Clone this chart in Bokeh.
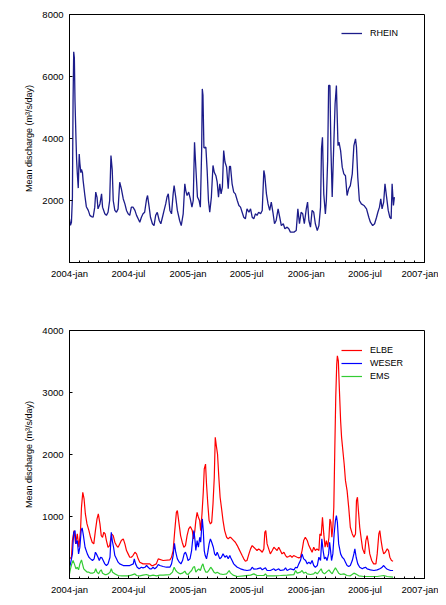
import numpy as np
from bokeh.plotting import figure
from bokeh.models import FixedTicker, Legend, LegendItem
from bokeh.layouts import column
from bokeh.embed import file_html
from bokeh.resources import INLINE

# ---------------- data (day offsets from 2004-01-01, mean discharge m3/s/day) -------------
start_date = "2004-01-01"
end_date = "2007-01-01"
tick_labels = ["2004-jan", "2004-jul", "2005-jan", "2005-jul", "2006-jan", "2006-jul", "2007-jan"]

rhein_day = [0, 3, 6, 9, 11, 13, 15, 17, 20, 22, 24, 27, 30, 32, 35, 37, 40, 42, 47, 52, 58, 63, 68, 73,
             78, 81, 85, 88, 94, 99, 102, 109, 114, 119, 124, 128, 132, 135, 140, 145, 150, 155, 160, 166,
             171, 176, 181, 186, 191, 196, 202, 207, 212, 217, 222, 227, 232, 238, 241, 246, 250, 256, 261,
             266, 271, 277, 282, 287, 292, 297, 301, 305, 310, 315, 320, 323, 328, 333, 340, 345, 351, 356,
             359, 363, 368, 373, 378, 382, 386, 390, 395, 400, 404, 408, 410, 412, 415, 421, 425, 429, 433,
             438, 443, 447, 452, 456, 460, 464, 468, 472, 476, 480, 485, 490, 494, 497, 502, 507, 512, 518,
             523, 528, 533, 538, 543, 548, 554, 559, 564, 569, 574, 579, 584, 590, 595, 600, 603, 608, 613,
             618, 623, 628, 633, 638, 644, 649, 654, 660, 665, 672, 677, 682, 693, 700, 705, 710, 715, 720,
             725, 731, 735, 739, 744, 749, 754, 759, 765, 770, 775, 778, 781, 785, 790, 793, 797, 800, 804,
             807, 811, 816, 820, 824, 826, 829, 832, 837, 842, 847, 852, 857, 862, 867, 873, 878, 883, 886,
             890, 895, 901, 909, 917, 924, 929, 936, 942, 948, 952, 957, 961, 965, 970, 974, 979, 984, 989,
             993, 996, 1000, 1003]
rhein_q = [1400, 1200, 1300, 2100, 5200, 6800, 6600, 5200, 4000, 3300, 2900, 2400, 3500, 3200, 2900, 3000,
           2900, 2650, 2200, 1800, 1680, 1520, 1480, 1460, 1785, 2270, 2100, 1730, 1890, 2215, 1785, 1570,
           1520, 1620, 2000, 3450, 2970, 2000, 1680, 1620, 1730, 2590, 2380, 2050, 1890, 1680, 1570, 1520,
           1785, 1785, 1680, 1520, 1410, 1300, 1460, 1570, 1620, 2050, 2160, 1785, 1460, 1250, 1190, 1520,
           1620, 1355, 1250, 1460, 1680, 1890, 2110, 2215, 1680, 1570, 2215, 2480, 2110, 1680, 1355, 1190,
           1570, 2540, 2320, 2160, 2270, 2050, 1785, 2000, 3880, 3075, 2110, 2000, 1785, 3610, 5600, 5400,
           3700, 3720, 2970, 2000, 1620, 2110, 3130, 2910, 2800, 2590, 2110, 2540, 2215, 2430, 3610, 3240,
           3075, 2380, 3100, 3100, 2540, 2270, 2215, 2000, 1840, 1785, 1620, 1460, 1410, 1730, 1620, 1730,
           1460, 1410, 1570, 1520, 1620, 1570, 1680, 2970, 2800, 2215, 1890, 1680, 1950, 1620, 1250, 1355,
           1730, 1460, 1190, 1250, 1090, 1140, 1090, 980, 980, 1030, 1730, 1250, 1620, 1570, 1250, 1730,
           1950, 1355, 1140, 1680, 1620, 1250, 1030, 1190, 1785, 3670, 4040, 2215, 1570, 2000, 3290, 5710,
           5710, 3720, 2110, 3830, 5120, 5710, 4900, 3770, 3880, 3610, 3075, 2860, 2800, 2160, 2380, 2480,
           2860, 3770, 3990, 3720, 2750, 2000, 1890, 1840, 1730, 1460, 1300, 1190, 1250, 1460, 1620, 1785,
           2050, 1730, 1950, 2540, 2110, 1680, 1460, 1410, 2540, 1840, 2110]

elbe_day = [0, 6, 9, 14, 19, 24, 29, 34, 37, 41, 45, 49, 54, 60, 65, 70, 75, 80, 85, 89, 94, 98, 102, 106,
            110, 114, 119, 124, 130, 135, 140, 145, 150, 155, 160, 166, 171, 176, 181, 186, 191, 196, 202,
            207, 212, 217, 227, 238, 248, 253, 258, 268, 274, 289, 310, 315, 320, 325, 330, 333, 337, 343,
            348, 353, 358, 363, 368, 373, 379, 383, 387, 390, 394, 398, 402, 405, 409, 413, 416, 420, 423,
            427, 431, 435, 439, 443, 447, 450, 454, 457, 461, 465, 469, 474, 479, 485, 490, 495, 497, 502,
            507, 512, 518, 523, 528, 533, 538, 543, 548, 554, 559, 564, 569, 574, 579, 584, 590, 595, 600,
            603, 606, 610, 615, 620, 626, 631, 636, 641, 646, 651, 656, 662, 667, 672, 677, 682, 687, 692,
            698, 703, 708, 713, 718, 723, 728, 734, 739, 744, 749, 754, 759, 764, 770, 773, 777, 781, 785,
            789, 793, 797, 801, 804, 807, 810, 813, 816, 819, 822, 825, 827, 830, 833, 837, 840, 844, 848,
            852, 857, 862, 867, 873, 878, 883, 886, 889, 892, 896, 900, 905, 911, 915, 919, 923, 927, 933,
            939, 946, 950, 955, 958, 962, 966, 970, 975, 981, 985, 989, 994, 999]
elbe_q = [317, 343, 612, 773, 558, 719, 504, 773, 1148, 1390, 1283, 1041, 880, 773, 665, 585, 558, 773, 961,
          1041, 880, 692, 665, 746, 719, 612, 504, 531, 719, 692, 585, 531, 504, 558, 612, 639, 558, 451,
          397, 343, 343, 370, 424, 397, 317, 263, 236, 236, 236, 209, 209, 236, 317, 290, 300, 343, 451, 773,
          1068, 1095, 934, 692, 585, 504, 531, 692, 800, 837, 773, 639, 773, 934, 1068, 987, 934, 773, 1041,
          1390, 1766, 1846, 1524, 1202, 934, 880, 907, 1202, 1632, 2276, 2115, 2007, 1632, 1310, 1148, 934,
          773, 665, 639, 665, 665, 639, 612, 585, 531, 478, 424, 370, 317, 279, 290, 397, 478, 531, 504, 478,
          451, 478, 451, 424, 478, 746, 773, 558, 478, 397, 451, 504, 478, 451, 504, 451, 397, 424, 370, 343,
          354, 370, 343, 370, 354, 343, 333, 343, 451, 612, 665, 612, 531, 478, 424, 504, 451, 478, 451, 719,
          692, 988, 719, 504, 612, 504, 665, 961, 907, 665, 827, 1148, 2061, 2920, 3456, 3590, 3510, 3081,
          2544, 2276, 2061, 1846, 1578, 1417, 1148, 827, 719, 665, 719, 1256, 1310, 1095, 827, 665, 478, 397,
          612, 692, 558, 397, 290, 236, 236, 397, 719, 773, 612, 478, 397, 424, 478, 451, 343, 290, 279]

weser_day = [0, 3, 9, 13, 17, 20, 24, 28, 32, 36, 39, 43, 48, 55, 60, 65, 71, 76, 80, 83, 88, 92, 96, 100,
             104, 109, 114, 119, 125, 129, 132, 136, 140, 145, 150, 155, 166, 176, 186, 197, 200, 204, 209,
             215, 222, 227, 233, 238, 243, 248, 253, 258, 263, 269, 274, 279, 289, 299, 310, 315, 320, 324,
             328, 333, 339, 344, 349, 354, 358, 362, 366, 372, 377, 380, 384, 387, 390, 394, 398, 402, 405,
             410, 413, 416, 419, 423, 427, 431, 435, 439, 444, 448, 452, 456, 460, 464, 469, 474, 480, 485,
             490, 495, 497, 502, 507, 512, 518, 528, 538, 548, 559, 564, 569, 579, 590, 595, 600, 605, 610,
             620, 631, 636, 646, 651, 662, 667, 672, 682, 693, 698, 703, 708, 713, 718, 723, 729, 734, 739,
             744, 749, 754, 759, 765, 770, 775, 779, 783, 787, 791, 795, 800, 803, 806, 809, 813, 817, 821,
             824, 827, 831, 837, 842, 847, 852, 857, 862, 867, 873, 878, 881, 885, 890, 896, 904, 909, 914,
             919, 929, 940, 950, 960, 965, 970, 976, 981, 991, 999]
weser_q = [182, 236, 397, 746, 773, 558, 612, 397, 504, 773, 816, 692, 504, 397, 343, 317, 290, 317, 424, 397,
           343, 290, 343, 333, 290, 236, 209, 236, 343, 746, 612, 504, 370, 317, 263, 236, 209, 209, 209, 236,
           317, 236, 182, 156, 182, 172, 182, 209, 182, 156, 156, 182, 156, 182, 225, 209, 193, 182, 182, 236,
           370, 569, 424, 317, 263, 236, 290, 397, 424, 370, 290, 317, 451, 612, 773, 639, 451, 612, 504, 665,
           585, 961, 773, 451, 370, 317, 424, 558, 639, 585, 504, 397, 370, 424, 370, 317, 343, 397, 343, 370,
           317, 370, 343, 290, 236, 209, 182, 156, 140, 129, 140, 182, 150, 156, 172, 140, 156, 172, 129, 129,
           156, 129, 156, 129, 140, 172, 129, 156, 140, 182, 172, 236, 290, 397, 317, 290, 236, 263, 236, 290,
           209, 182, 209, 343, 290, 639, 451, 317, 343, 290, 397, 585, 451, 290, 397, 719, 934, 1014, 907, 558,
           397, 343, 317, 263, 209, 193, 209, 290, 397, 478, 343, 236, 182, 156, 172, 182, 156, 140, 129, 140,
           161, 182, 209, 172, 150, 129, 129]

ems_day = [0, 3, 7, 11, 15, 20, 24, 28, 32, 37, 40, 44, 49, 55, 60, 65, 71, 77, 81, 85, 90, 94, 98, 102, 109,
           114, 119, 125, 129, 133, 140, 150, 161, 171, 181, 191, 202, 207, 217, 227, 238, 248, 258, 269, 279,
           289, 299, 310, 318, 323, 328, 333, 341, 349, 356, 361, 366, 372, 377, 382, 386, 390, 394, 399, 404,
           409, 412, 416, 421, 426, 431, 436, 440, 446, 451, 456, 464, 474, 485, 493, 497, 505, 518, 538, 559,
           569, 579, 600, 605, 610, 631, 651, 672, 693, 698, 703, 713, 718, 723, 729, 734, 744, 754, 759, 765,
           773, 777, 781, 787, 793, 801, 806, 811, 816, 821, 826, 831, 837, 847, 857, 867, 878, 883, 893, 909,
           929, 950, 970, 981, 999]
ems_q = [75, 156, 236, 290, 236, 156, 182, 140, 236, 300, 236, 156, 129, 102, 102, 86, 86, 102, 156, 102, 75,
         118, 140, 86, 64, 64, 75, 102, 156, 102, 75, 48, 43, 43, 43, 54, 75, 48, 43, 54, 64, 43, 54, 43, 54,
         54, 59, 64, 102, 182, 129, 102, 75, 86, 118, 75, 64, 102, 129, 182, 193, 102, 129, 156, 129, 209,
         236, 156, 102, 102, 140, 182, 156, 102, 86, 102, 75, 64, 75, 129, 90, 54, 32, 43, 54, 75, 48, 48, 75,
         43, 43, 48, 54, 64, 129, 86, 102, 129, 86, 102, 75, 64, 75, 102, 75, 129, 156, 102, 75, 102, 140,
         102, 75, 129, 172, 129, 86, 64, 75, 48, 43, 86, 75, 43, 32, 32, 32, 48, 32, 21]

# ---------------- helpers -------------
FONT = "Liberation Sans"
origin = np.datetime64(start_date)
months = np.arange(np.datetime64(start_date, "M"), np.datetime64(end_date, "M") + 1, dtype="datetime64[M]")
month_days = [int(d) for d in (months.astype("datetime64[D]") - origin).astype(int)]
major_days = month_days[::6]
x_end = int((np.datetime64(end_date) - origin).astype(int))


def make_fig(ymax, yticks, top, bottom, frame_h=248):
    p = figure(width=438, height=top + frame_h + bottom, x_range=(0, x_end), y_range=(0, ymax),
               output_backend="svg", toolbar_location=None,
               min_border_left=69, min_border_right=14, min_border_top=top, min_border_bottom=bottom)
    p.background_fill_color = "white"
    p.border_fill_color = "white"
    p.outline_line_color = "black"
    p.outline_line_width = 1
    p.outline_line_alpha = 1
    p.xgrid.visible = False
    p.ygrid.visible = False

    p.xaxis.ticker = FixedTicker(ticks=major_days, minor_ticks=month_days)
    p.xaxis.major_label_overrides = {d: lab for d, lab in zip(major_days, tick_labels)}
    p.yaxis.ticker = FixedTicker(ticks=yticks, minor_ticks=[])
    for ax in (p.xaxis[0], p.yaxis[0]):
        ax.axis_line_color = "black"
        ax.axis_line_width = 1
        ax.major_tick_in = 3
        ax.major_tick_out = 0
        ax.minor_tick_in = 2
        ax.minor_tick_out = 0
        ax.major_tick_line_color = "black"
        ax.minor_tick_line_color = "black"
        ax.major_label_text_font = FONT
        ax.major_label_text_font_size = "9.5px"
        ax.major_label_text_color = "black"
    p.xaxis.major_label_standoff = 5
    p.yaxis.major_label_standoff = 6
    p.yaxis.axis_label = "Mean discharge (m³/s/day)"
    p.yaxis.axis_label_text_font = FONT
    p.yaxis.axis_label_text_font_size = "9px"
    p.yaxis.axis_label_text_font_style = "normal"
    p.yaxis.axis_label_text_color = "black"
    p.yaxis.axis_label_standoff = 5
    return p


def add_legend(p, items, x, y):
    leg = Legend(items=items, location=(x, y), padding=0, margin=0, spacing=3,
                 glyph_width=21, glyph_height=10, label_height=10, label_standoff=8,
                 label_text_font=FONT, label_text_font_size="9px", label_text_color="black",
                 border_line_color=None, background_fill_alpha=0)
    p.add_layout(leg)


# ---------------- top panel: RHEIN -------------
p1 = make_fig(8000, [2000, 4000, 6000, 8000], top=14, bottom=32)
r_rhein = p1.line(rhein_day, rhein_q, line_color="#1c1c8a", line_width=1.3)
add_legend(p1, [LegendItem(label="RHEIN", renderers=[r_rhein])], 272, 224)

# ---------------- bottom panel: ELBE, WESER, EMS -------------
p2 = make_fig(4000, [1000, 2000, 3000, 4000], top=36, bottom=19)
r_elbe = p2.line(elbe_day, elbe_q, line_color="#ff0000", line_width=1.2)
r_weser = p2.line(weser_day, weser_q, line_color="#0000ff", line_width=1.2)
r_ems = p2.line(ems_day, ems_q, line_color="#33cc33", line_width=1.2)
add_legend(p2, [LegendItem(label="ELBE", renderers=[r_elbe]),
                LegendItem(label="WESER", renderers=[r_weser]),
                LegendItem(label="EMS", renderers=[r_ems])], 272, 197)

layout = column(p1, p2, spacing=0)
open("out.html", "w").write(file_html(layout, INLINE))
